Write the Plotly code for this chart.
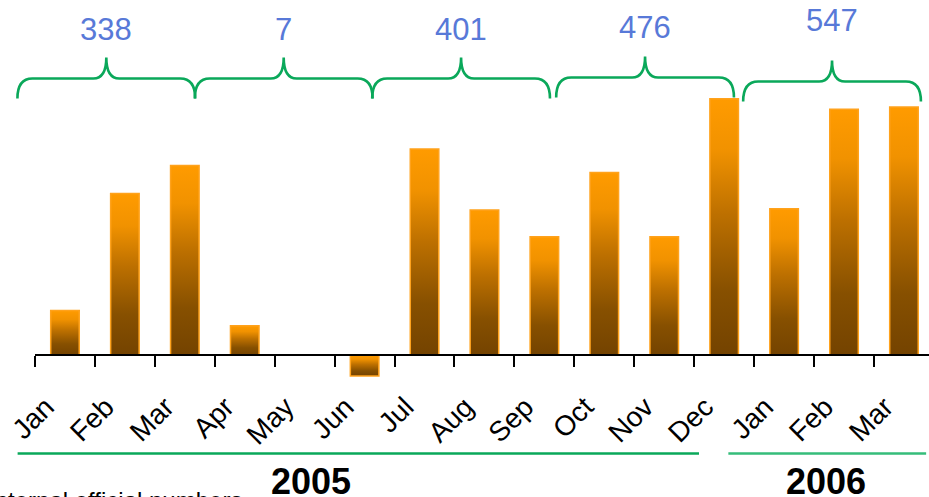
import plotly.graph_objects as go

# ---------------- data ----------------
months = ["Jan", "Feb", "Mar", "Apr", "May", "Jun", "Jul", "Aug", "Sep",
          "Oct", "Nov", "Dec", "Jan", "Feb", "Mar"]
values = [38, 138, 162, 25, 0, -18, 176, 124, 101, 156, 101, 219, 125, 210, 212]
quarter_totals = [338, 7, 401, 476, 547]
years = ["2005", "2006"]
year_first_idx = [0, 12]
year_last_idx = [11, 14]
source_note = "Source: internal official numbers"

# ---------------- layout constants ----------------
W, H = 929, 497
ML, MR, MT, MB = 35, 0, 0, 97
PW = W - ML - MR
PH = H - MT - MB
XR = [-0.5, 14.418]
YR = [-38.5, 303.5]
FONT = "Liberation Sans, Arial, sans-serif"
GREEN = "#0aa85a"
BLUE = "#5879d8"
BAR_HALF = 0.238

# brace offsets (in category units / pixels) per quarter
brace_shift = [-0.31, -0.35, -0.39, -0.32, -0.20]
brace_lift = [0, 0, 0, -1, 3]
label_lift = [0, 0, 1, -1, -8]


def px_x(d):
    return ML + (d - XR[0]) / (XR[1] - XR[0]) * PW


def py_y(v):
    return MT + (YR[1] - v) / (YR[1] - YR[0]) * PH


def fx(px):
    return (px - ML) / PW


def fy(py):
    return (MT + PH - py) / PH


fig = go.Figure()

# bars with vertical gradient
grad = [[0.0, "#744300"], [0.25, "#875000"], [0.55, "#bd7000"],
        [0.8, "#f19200"], [1.0, "#ff9b00"]]
for i, v in enumerate(values):
    if v == 0:
        continue
    xs = [i - BAR_HALF, i - BAR_HALF, i + BAR_HALF, i + BAR_HALF, i - BAR_HALF]
    ys = [0, v, v, 0, 0]
    fig.add_trace(go.Scatter(
        x=xs, y=ys, mode="lines", fill="toself",
        fillgradient=dict(type="vertical", colorscale=grad),
        line=dict(color="#ffa21c", width=1.5),
        hoverinfo="skip", showlegend=False, xaxis="x", yaxis="y"))

zero_pos = fy(py_y(0))

fig.update_layout(
    width=W, height=H,
    margin=dict(l=ML, r=MR, t=MT, b=MB),
    paper_bgcolor="white", plot_bgcolor="white",
    showlegend=False,
    xaxis=dict(range=XR, anchor="free", position=zero_pos,
               showline=True, linecolor="black", linewidth=2,
               ticks="outside", ticklen=11, tickwidth=2, tickcolor="black",
               tickvals=[i - 0.5 for i in range(len(months))],
               showticklabels=False, showgrid=False, zeroline=False,
               fixedrange=True),
    xaxis2=dict(range=XR, overlaying="x", anchor="free", position=zero_pos,
                side="bottom", showline=False, ticks="",
                tickvals=list(range(len(months))), ticktext=months,
                tickangle=-45, ticklabelstandoff=29, ticklabelshift=-19,
                tickfont=dict(family=FONT, size=28, color="black"),
                showgrid=False, zeroline=False),
    yaxis=dict(range=YR, visible=False, showgrid=False, zeroline=False),
)
# dummy trace to activate xaxis2
fig.add_trace(go.Scatter(x=[0], y=[0], mode="markers", marker=dict(opacity=0),
                         xaxis="x2", yaxis="y", hoverinfo="skip", showlegend=False))

shapes = []
annotations = []

# braces with quarter totals
for q, total in enumerate(quarter_totals):
    xl = px_x(3 * q - 0.5 + brace_shift[q]) + 1
    xr = px_x(3 * q + 2.5 + brace_shift[q]) - 1
    xt = (xl + xr) / 2
    yend = 98.5 + brace_lift[q]
    ymid = 78.5 + brace_lift[q]
    ytip = 57.5 + brace_lift[q]
    r, rt = 15, 13
    pts = [
        ("M", [(xl, yend)]),
        ("Q", [(xl, ymid), (xl + r, ymid)]),
        ("L", [(xt - rt, ymid)]),
        ("Q", [(xt, ymid), (xt, ytip)]),
        ("Q", [(xt, ymid), (xt + rt, ymid)]),
        ("L", [(xr - r, ymid)]),
        ("Q", [(xr, ymid), (xr, yend)]),
    ]
    path = " ".join(cmd + " " + " ".join(f"{fx(a):.5f},{fy(b):.5f}" for a, b in p)
                    for cmd, p in pts)
    shapes.append(dict(type="path", path=path, xref="paper", yref="paper",
                       line=dict(color=GREEN, width=2.6)))
    annotations.append(dict(text=str(total), x=fx(xt), y=fy(29 + label_lift[q]),
                            xref="paper", yref="paper", xanchor="center",
                            yanchor="middle", showarrow=False,
                            font=dict(family=FONT, size=31, color=BLUE)))

# year underlines and labels
year_pad_l = [-0.29, -0.43]
year_pad_r = [-0.92, -0.13]
year_label_pos = [4.1, 12.7]
for k, yr in enumerate(years):
    x0 = px_x(year_first_idx[k] - 0.5 + year_pad_l[k])
    x1 = px_x(year_last_idx[k] + 0.5 + year_pad_r[k])
    shapes.append(dict(type="line", xref="paper", yref="paper",
                       x0=fx(x0), x1=fx(x1), y0=fy(453.5), y1=fy(453.5),
                       line=dict(color=GREEN if k == 0 else "#35bd7a", width=2.5)))
    annotations.append(dict(text="<b>" + yr + "</b>", x=fx(px_x(year_label_pos[k])),
                            y=fy(481), xref="paper", yref="paper",
                            xanchor="center", yanchor="middle", showarrow=False,
                            font=dict(family=FONT, size=36, color="black")))

annotations.append(dict(text=source_note, x=fx(244), y=fy(485), xref="paper",
                        yref="paper", xanchor="right", yanchor="top",
                        showarrow=False,
                        font=dict(family=FONT, size=24, color="black")))

fig.update_layout(shapes=shapes, annotations=annotations)
fig.write_html("out.html",
               config={"displayModeBar": False},
               post_script="document.body.style.margin='0px';"
                           "document.body.style.padding='0px';")
